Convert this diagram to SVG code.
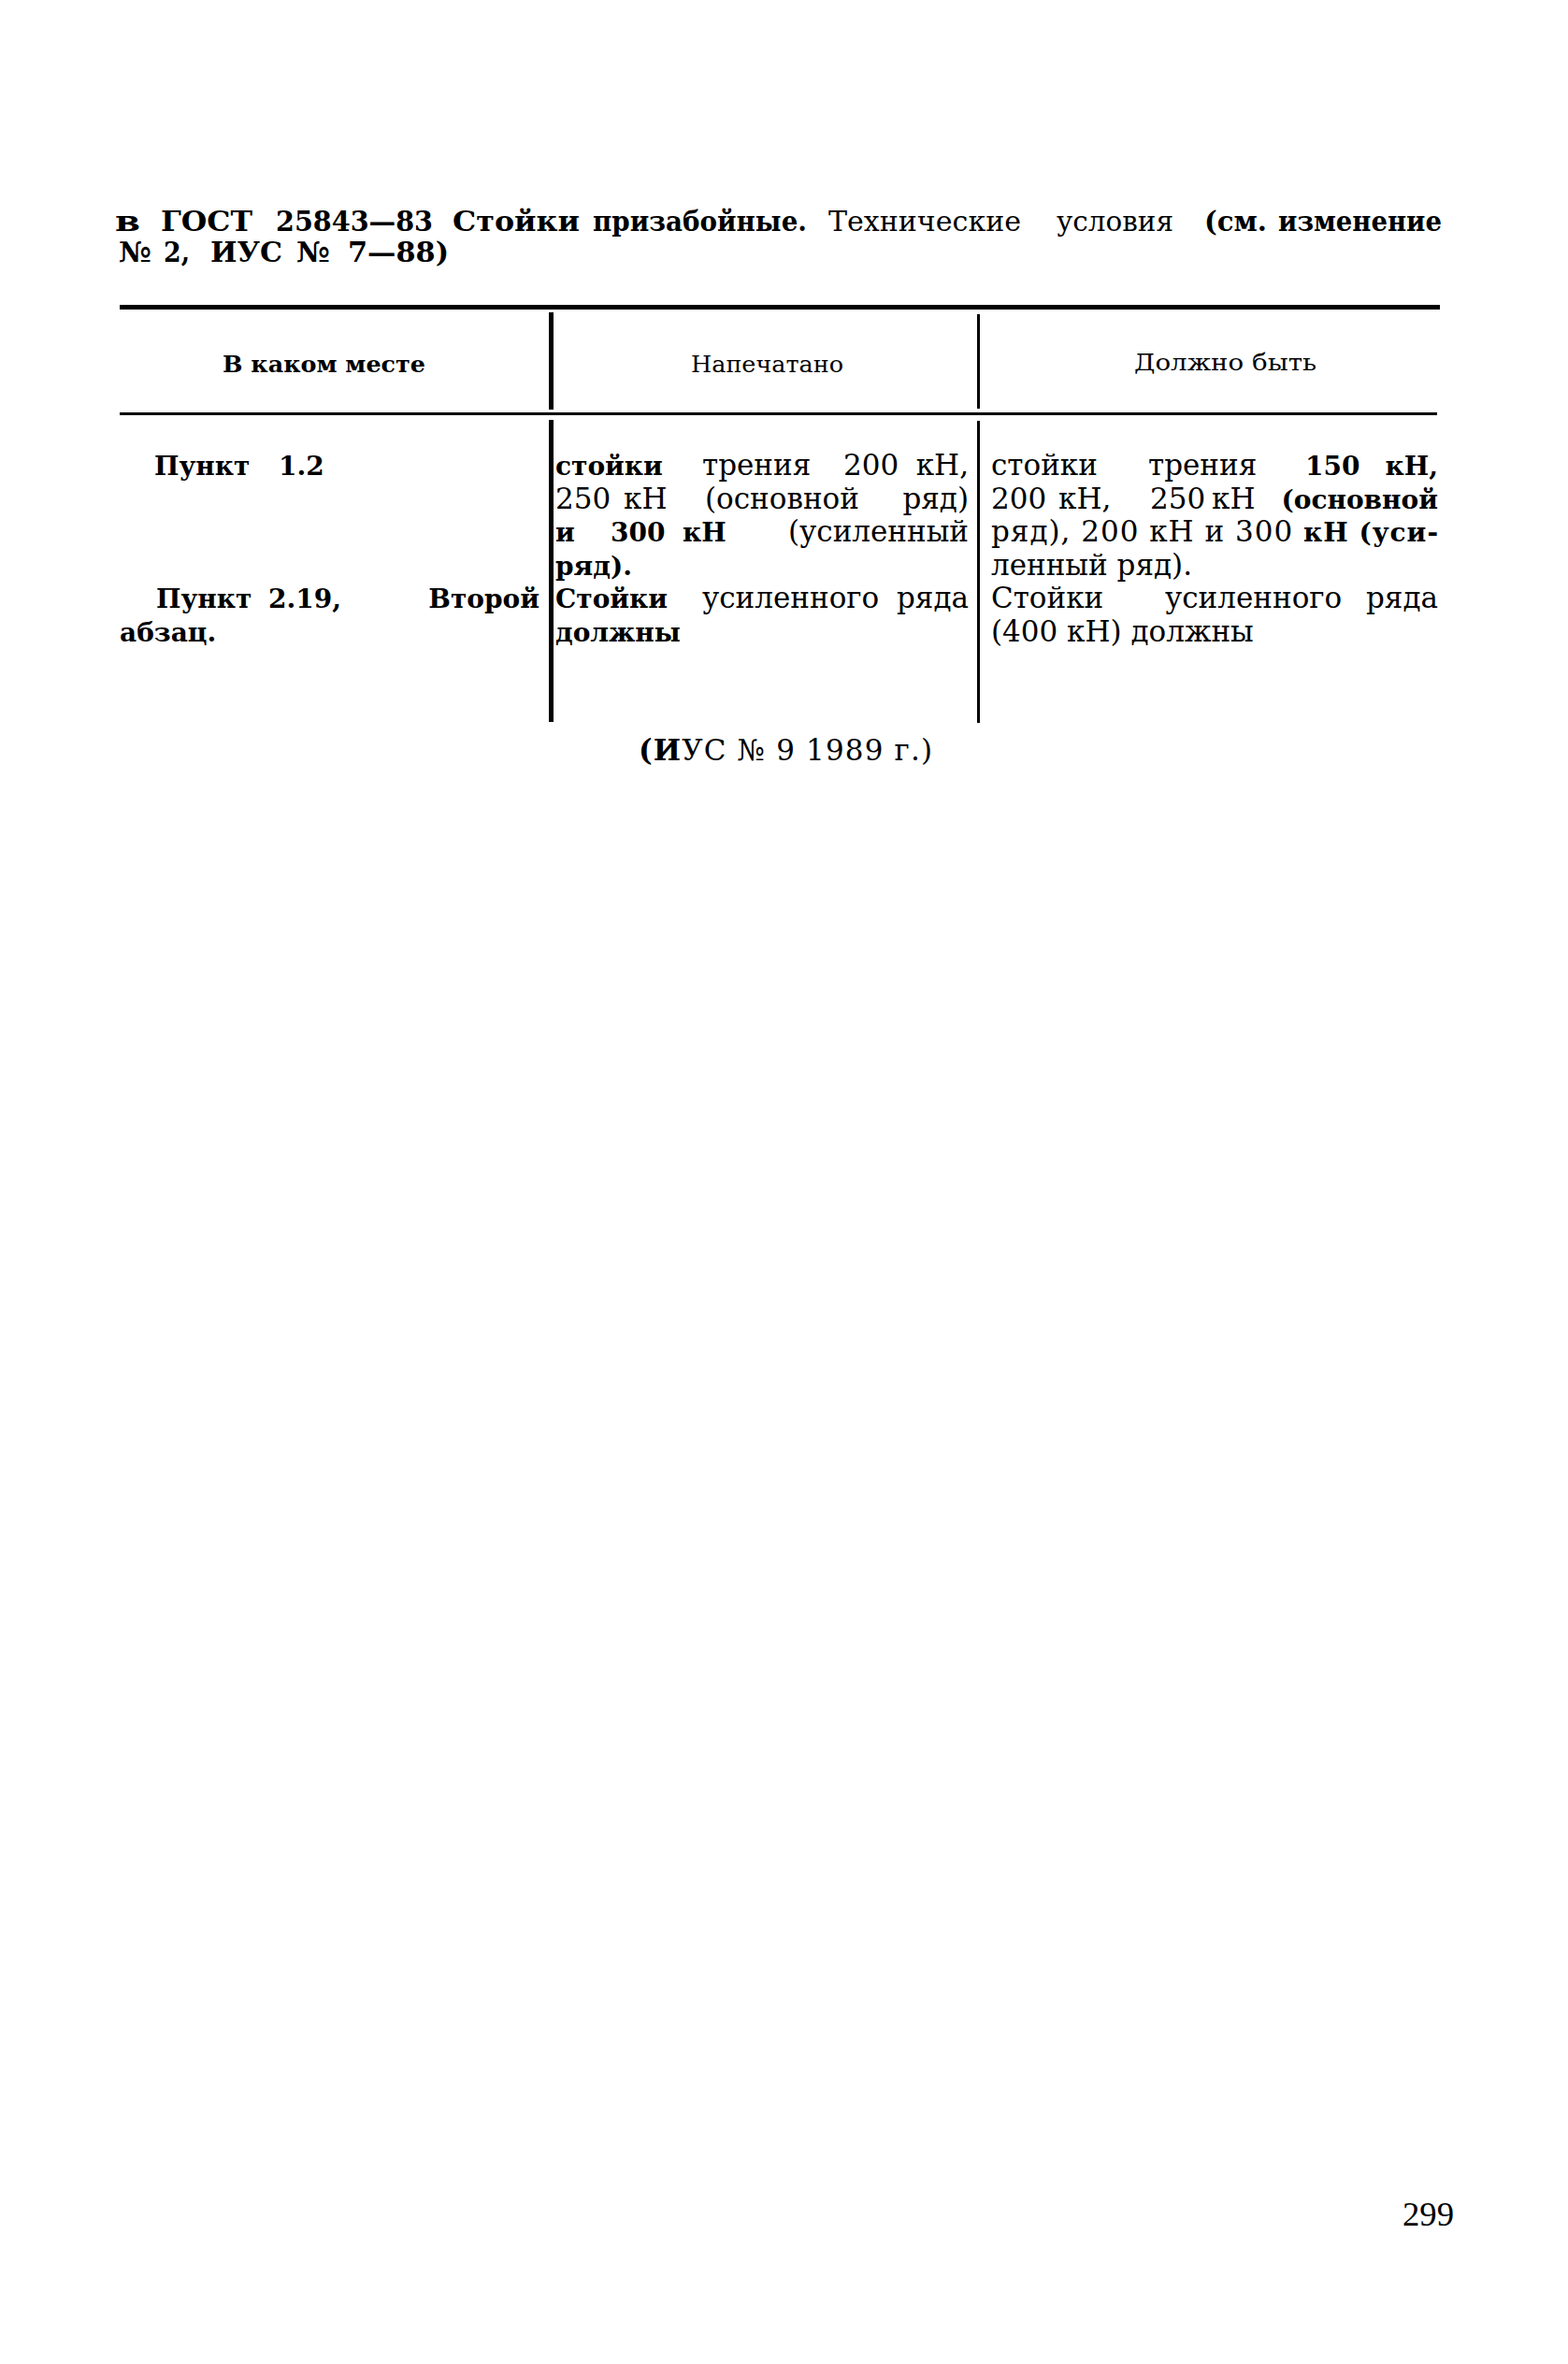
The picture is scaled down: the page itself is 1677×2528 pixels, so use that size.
<svg xmlns="http://www.w3.org/2000/svg" width="1677" height="2528" viewBox="0 0 1677 2528">
<style>
text{font-family:"DejaVu Serif","Liberation Serif",serif;fill:#000}
.ti{font-size:30px;font-weight:bold}
.tn{font-size:30px;font-weight:normal}
.h{font-size:24px}
.hb{font-size:24px;font-weight:bold}
.bd{font-size:31px}
.bb{font-size:28px;font-weight:bold}
.e{text-anchor:end}
.pg{font-family:"Liberation Serif",serif;font-size:36px}
.rule{fill:#000}
</style>
<rect width="1677" height="2528" fill="#fff"/>

<g id="title">
<text class="ti" x="123" y="247" textLength="27" lengthAdjust="spacingAndGlyphs">в</text>
<text class="ti" x="172" y="247" textLength="98" lengthAdjust="spacingAndGlyphs">ГОСТ</text>
<text class="ti" x="295" y="247" textLength="168" lengthAdjust="spacingAndGlyphs">25843—83</text>
<text class="ti" x="484" y="247" textLength="136" lengthAdjust="spacingAndGlyphs">Стойки</text>
<text class="ti" x="634" y="247" textLength="229" lengthAdjust="spacingAndGlyphs">призабойные.</text>
<text class="tn" x="886" y="247" textLength="206" lengthAdjust="spacingAndGlyphs">Технические</text>
<text class="tn" x="1130" y="247" textLength="125" lengthAdjust="spacingAndGlyphs">условия</text>
<text class="ti" x="1288" y="247" textLength="67" lengthAdjust="spacingAndGlyphs">(см.</text>
<text class="ti" x="1367" y="247" textLength="175" lengthAdjust="spacingAndGlyphs">изменение</text>
<text class="ti" x="127" y="280" textLength="35" lengthAdjust="spacingAndGlyphs">№</text>
<text class="ti" x="175" y="280" textLength="28" lengthAdjust="spacingAndGlyphs">2,</text>
<text class="ti" x="225" y="280" textLength="77" lengthAdjust="spacingAndGlyphs">ИУС</text>
<text class="ti" x="317" y="280" textLength="36" lengthAdjust="spacingAndGlyphs">№</text>
<text class="ti" x="372" y="280" textLength="108" lengthAdjust="spacingAndGlyphs">7—88)</text>
</g>

<g id="table-rules">
<rect class="rule" x="128" y="326" width="1412" height="5"/>
<rect class="rule" x="128" y="441" width="1409" height="3"/>
<rect class="rule" x="587" y="334" width="5" height="104"/>
<rect class="rule" x="587" y="449" width="5" height="323"/>
<rect class="rule" x="1045" y="336" width="3" height="101"/>
<rect class="rule" x="1045" y="450" width="3" height="323"/>
</g>

<g id="header">
<text class="hb" x="238" y="398" textLength="217" lengthAdjust="spacingAndGlyphs">В каком месте</text>
<text class="h" x="739" y="398" textLength="163" lengthAdjust="spacingAndGlyphs">Напечатано</text>
<text class="h" x="1213" y="396" textLength="195" lengthAdjust="spacingAndGlyphs">Должно быть</text>
</g>

<g id="row-1">
<text class="bb" x="165" y="508">Пункт</text>
<text class="bb" x="298" y="508">1.2</text>

<text class="bb" x="594" y="508" font-size="29">стойки</text>
<text class="bd" x="751" y="508">трения</text>
<text class="bd" x="902" y="508">200</text>
<text class="bd e" x="1036" y="508">кН,</text>
<text class="bd" x="594" y="543.5">250</text>
<text class="bd" x="667" y="543.5">кН</text>
<text class="bd" x="754" y="543.5">(основной</text>
<text class="bd e" x="1036" y="543.5">ряд)</text>
<text class="bb" x="594" y="579">и</text>
<text class="bb" x="653" y="579">300</text>
<text class="bb" x="730" y="579">кН</text>
<text class="bd e" x="1036" y="579">(усиленный</text>
<text class="bb" x="594" y="614.5">ряд).</text>

<text class="bd" x="1060" y="508">стойки</text>
<text class="bd" x="1228" y="508">трения</text>
<text class="bb" x="1396" y="508">150</text>
<text class="bb e" x="1538" y="508">кН,</text>
<text class="bd" x="1060" y="543.5">200</text>
<text class="bd" x="1132" y="543.5">кН,</text>
<text class="bd" x="1230" y="543.5">250</text>
<text class="bd" x="1296" y="543.5">кН</text>
<text class="bb e" x="1538" y="543.5">(основной</text>
<text class="bd" x="1060" y="579" textLength="478" lengthAdjust="spacing">ряд), 200 кН и 300 <tspan font-weight="bold" font-size="28">кН (уси-</tspan></text>
<text class="bd" x="1060" y="614.5">ленный ряд).</text>
</g>

<g id="row-2">
<text class="bb" x="167" y="650">Пункт</text>
<text class="bb" x="287" y="650">2.19,</text>
<text class="bb e" x="577" y="650">Второй</text>
<text class="bb" x="128" y="685.5">абзац.</text>

<text class="bb" x="594" y="650" font-size="29">Стойки</text>
<text class="bd" x="751" y="650">усиленного</text>
<text class="bd e" x="1036" y="650">ряда</text>
<text class="bb" x="594" y="685.5">должны</text>

<text class="bd" x="1060" y="650">Стойки</text>
<text class="bd" x="1246" y="650">усиленного</text>
<text class="bd e" x="1538" y="650">ряда</text>
<text class="bd" x="1060" y="685.5">(400 кН) должны</text>
</g>

<g id="footnote">
<text class="bd" x="683" y="813" textLength="314" lengthAdjust="spacing"><tspan font-weight="bold">(И</tspan>УС № 9 1989 г.)</text>
</g>

<g id="page-number">
<text class="pg" x="1500" y="2380" textLength="55" lengthAdjust="spacingAndGlyphs">299</text>
</g>
</svg>
